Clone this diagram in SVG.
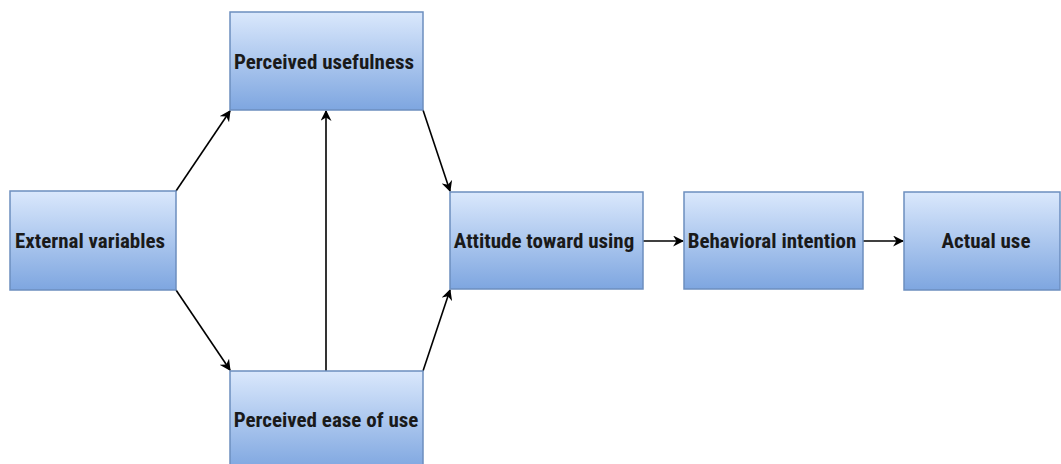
<svg xmlns="http://www.w3.org/2000/svg" width="1061" height="464" viewBox="0 0 1061 464">
<defs>
<linearGradient id="g" x1="0" y1="0" x2="0" y2="1">
<stop offset="0" stop-color="#dae8fc"/>
<stop offset="1" stop-color="#7ea6e0"/>
</linearGradient>
<marker id="a" viewBox="0 0 10 10" refX="9" refY="5" markerWidth="11" markerHeight="11" orient="auto" markerUnits="userSpaceOnUse">
<path d="M0,0 L10,5 L0,10 L3,5 Z" fill="#000"/>
</marker>
<style>
.box{fill:url(#g);stroke:#6c8ebf;stroke-width:1.5}
.t{font-family:"Liberation Sans Narrow","Roboto Condensed","Liberation Sans",sans-serif;font-size:21px;font-weight:bold;fill:#1a1a1a;text-anchor:middle;dominant-baseline:central}
.c{stroke:#000;stroke-width:1.6;fill:none;marker-end:url(#a)}
</style>
</defs>
<rect width="1061" height="464" fill="#fff"/>
<g id="connectors">
<line class="c" x1="176" y1="191" x2="230" y2="111"/>
<line class="c" x1="176" y1="290" x2="230" y2="370"/>
<line class="c" x1="326" y1="371" x2="326" y2="111"/>
<line class="c" x1="423" y1="110" x2="450" y2="191"/>
<line class="c" x1="423" y1="371" x2="450" y2="290"/>
<line class="c" x1="643" y1="241" x2="683" y2="241"/>
<line class="c" x1="863" y1="241" x2="903" y2="241"/>
</g>
<g id="external"><rect class="box" x="10" y="191" width="166" height="99"/><text class="t" x="90" y="241">External variables</text></g>
<g id="usefulness"><rect class="box" x="230" y="12" width="193" height="98"/><text class="t" x="324" y="62">Perceived usefulness</text></g>
<g id="ease"><rect class="box" x="230" y="371" width="193" height="99"/><text class="t" x="326" y="420">Perceived ease of use</text></g>
<g id="attitude"><rect class="box" x="450" y="192" width="193" height="97"/><text class="t" x="544" y="241">Attitude toward using</text></g>
<g id="intention"><rect class="box" x="684" y="192" width="179" height="97"/><text class="t" x="772" y="241">Behavioral intention</text></g>
<g id="actual"><rect class="box" x="904" y="192" width="156" height="98"/><text class="t" x="986" y="241">Actual use</text></g>
</svg>
